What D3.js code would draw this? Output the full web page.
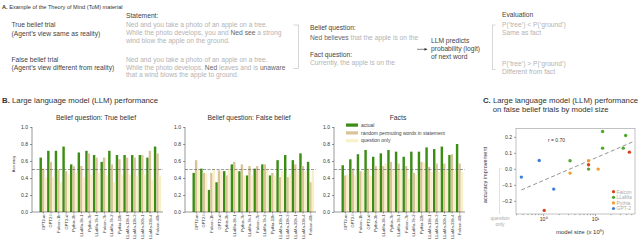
<!DOCTYPE html>
<html>
<head>
<meta charset="utf-8">
<script src="https://cdn.jsdelivr.net/npm/d3@7"></script>
<style>
  body { margin: 0; background: #fff; }
  svg { display: block; font-family: "Liberation Sans", Arial, Helvetica, sans-serif; }
</style>
</head>
<body>
<div id="fig"></div>
<script>
// models on the bar charts (same order in all three panels)
var models = ["GPT2-m", "GPT2-l", "Falcon-1b", "GPT2-xl", "Pythia-3b", "LLaMa-3b-1", "Pythia-7b", "LLaMa-7b-1",
  "Falcon-7b", "LLaMa-7b-2", "Pythia-12b", "LLaMa-13b-1", "LLaMa-13b-3", "LLaMa-30b-1", "LLaMa-33b-4", "Falcon-40b"];

// belief question: true belief
var trueActual   = [0.64, 0.72, 0.72, 0.77, 0.56, 0.70, 0.72, 0.67, 0.59, 0.72, 0.67, 0.67, 0.67, 0.67, 0.64, 0.77];
var truePermuted = [0.51, 0.59, 0.50, 0.48, 0.54, 0.54, 0.69, 0.64, 0.64, 0.56, 0.62, 0.64, 0.64, 0.67, 0.72, 0.69];
var trueQuestion = [0.41, 0.41, 0.35, 0.44, 0.46, 0.41, 0.44, 0.46, 0.43, 0.35, 0.44, 0.44, 0.43, 0.44, 0.38, 0.43];

// belief question: false belief
var falseActual   = [0.46, 0.51, 0.26, 0.35, 0.48, 0.56, 0.48, 0.43, 0.51, 0.56, 0.43, 0.61, 0.67, 0.61, 0.69, 0.59];
var falsePermuted = [0.61, 0.46, 0.46, 0.49, 0.43, 0.59, 0.56, 0.54, 0.54, 0.56, 0.46, 0.41, 0.41, 0.56, 0.54, 0.35];
var falseQuestion = [0.51, 0.46, 0.51, 0.48, 0.51, 0.51, 0.43, 0.43, 0.49, 0.51, 0.43, 0.48, 0.44, 0.48, 0.48, 0.49];

// fact question
var factActual   = [0.55, 0.62, 0.68, 0.73, 0.65, 0.69, 0.73, 0.71, 0.65, 0.71, 0.71, 0.76, 0.74, 0.77, 0.67, 0.80];
var factPermuted = [0.43, 0.51, 0.48, 0.51, 0.54, 0.54, 0.59, 0.57, 0.54, 0.46, 0.59, 0.53, 0.57, 0.57, 0.68, 0.57];
var factQuestion = [0.44, 0.44, 0.47, 0.42, 0.51, 0.57, 0.50, 0.50, 0.39, 0.44, 0.58, 0.47, 0.47, 0.49, 0.49, 0.47];

var accTicks = [0, 0.2, 0.4, 0.6, 0.8, 1.0];
var legendLabels = ["actual", "random permuting words in statement", "question only"];

// panel C: accuracy improvement vs model size (billions)
var scatterFamily = ["GPT-2", "GPT-2", "GPT-2", "Falcon", "Falcon", "Falcon",
  "LLaMa", "LLaMa", "LLaMa", "LLaMa", "LLaMa", "LLaMa", "Pythia", "Pythia", "Pythia"];
var scatterSize = [0.38, 0.84, 1.6, 1.05, 7.5, 46, 3.3, 7.5, 14, 14, 35, 39, 3.3, 7.5, 11.5];
var scatterGain = [-0.052, 0.052, -0.127, -0.26, 0.025, 0.104, 0.05, -0.002, 0.129, 0.233, 0.129, 0.208, -0.027, 0.05, -0.002];
var familyNames = ["Falcon", "LLaMa", "Pythia", "GPT-2"];
var familyColors = ["#d8431d", "#4fa82e", "#f29a2c", "#3c7fd6"];
var gainTicks = [-0.2, -0.1, 0, 0.1, 0.2];

var barColors = ["#3b8d13", "#d8c39a", "#f8f0c6"];
var light = "#b3b3b3", dark = "#444";

var svg = d3.select("#fig").append("svg").attr("width", 640).attr("height", 249);

function text(x, y, str, size, fill, anchor) {
  return svg.append("text").attr("x", x).attr("y", y).text(str)
    .attr("font-size", size).attr("fill", fill || dark).attr("text-anchor", anchor || "start");
}

// text with some darker words: parts = [[str, highlighted], ...]
function richText(x, y, parts, size) {
  var t = svg.append("text").attr("x", x).attr("y", y).attr("font-size", size);
  parts.forEach(function(p) {
    t.append("tspan").text(p[0]).attr("fill", p[1] ? "#666" : light);
  });
}

// ---------- A. example material ----------
var a = text(2, 8.5, "", 5.6, "#333");
a.append("tspan").text("A.").attr("font-weight", "bold");
a.append("tspan").text("  Example of the Theory of Mind (ToM) material");

var fs = 6.7;
text(126, 17.6, "Statement:", fs);
text(11.5, 27.2, "True belief trial", fs);
text(11.5, 35.5, "(Agent\u2019s view same as reality)", fs);
text(11.5, 62, "False belief trial", fs);
text(11.5, 70, "(Agent\u2019s view different from reality)", fs);

richText(126, 26.6, [["Ned and you take a photo of an apple on a tree.", 0]], fs);
richText(126, 35, [["While the photo develops, you and ", 0], ["Ned", 1], [" ", 0], ["see", 1], [" a strong", 0]], fs);
richText(126, 42.8, [["wind blow the apple on the ground.", 0]], fs);
richText(126, 61.6, [["Ned and you take a photo of an apple on a tree.", 0]], fs);
richText(126, 69.6, [["While the photo develops, ", 0], ["Ned", 1], [" leaves and is ", 0], ["unaware", 1]], fs);
richText(126, 77.3, [["that a wind blows the apple to ground.", 0]], fs);

svg.append("path").attr("d", "M293.5,25H298.5V68.5H293.5").attr("fill", "none").attr("stroke", "#bbb").attr("stroke-width", 0.6);

text(310, 30.4, "Belief question:", fs);
richText(310, 39.6, [["Ned believes", 1], [" that the apple is on the", 0]], fs);
text(310, 57.2, "Fact question:", fs);
richText(310, 65.4, [["Currently, the apple is on the", 0]], fs);

svg.append("line").attr("x1", 417).attr("x2", 426.5).attr("y1", 49.3).attr("y2", 49.3).attr("stroke", "#333").attr("stroke-width", 0.6);
svg.append("path").attr("d", "M427.5,49.3L424.5,47.9L424.5,50.7Z").attr("fill", "#333");
text(431, 43.2, "LLM predicts", fs);
text(431, 51.4, "probability (logit)", fs);
text(431, 59.4, "of next word", fs);

text(502, 17.2, "Evaluation", fs);
svg.append("path").attr("d", "M495.5,25H492.5V69.5H495.5").attr("fill", "none").attr("stroke", "#bbb").attr("stroke-width", 0.6);
text(502, 27.2, "P(\u2018tree\u2019) < P(\u2018ground\u2019)", fs, light);
text(502, 34.8, "Same as fact", fs, light);
text(502, 66.2, "P(\u2018tree\u2019) > P(\u2018ground\u2019)", fs, light);
text(502, 73.8, "Different from fact", fs, light);

// ---------- B. bar charts ----------
var b = text(2, 103.3, "", 7.8, "#333");
b.append("tspan").text("B.").attr("font-weight", "bold");
b.append("tspan").text("  Large language model (LLM) performance");

var yAcc = d3.scaleLinear().domain([0, 1]).range([212, 127]);

function barChart(x0, title, series, withLegend) {
  var g = svg.append("g");
  var x = d3.scaleBand().domain(models).range([x0 + 7.5, x0 + 129.5]).paddingInner(0);
  var bw = x.bandwidth() / 3.15;

  series.forEach(function(vals, k) {
    g.selectAll(".s" + k).data(vals).enter().append("rect")
      .attr("x", function(d, i) { return x(models[i]) + k * bw; })
      .attr("y", function(d) { return yAcc(d); })
      .attr("width", bw)
      .attr("height", function(d) { return yAcc(0) - yAcc(d); })
      .attr("fill", barColors[k]);
  });

  // chance line
  g.append("line").attr("x1", x0).attr("x2", x0 + 131)
    .attr("y1", yAcc(0.5)).attr("y2", yAcc(0.5))
    .attr("stroke", "#555").attr("stroke-width", 0.6).attr("stroke-dasharray", "3,1.5");

  var ya = g.append("g").attr("transform", "translate(" + x0 + ",0)")
    .call(d3.axisLeft(yAcc).tickValues(accTicks).tickFormat(d3.format(".1f")).tickSize(2).tickPadding(2));
  ya.select(".domain").attr("d", "M0," + yAcc(0) + "V" + yAcc(1));
  var xa = g.append("g").attr("transform", "translate(0," + yAcc(0) + ")")
    .call(d3.axisBottom(x).tickSize(1.5).tickPadding(1.5));
  xa.select(".domain").attr("d", "M" + x0 + ",0H" + (x0 + 131));
  xa.selectAll("text").attr("transform", "rotate(-90)").attr("text-anchor", "end")
    .attr("x", -2.5).attr("y", 0).attr("dy", "0.35em").attr("font-size", 4.1).attr("fill", "#333");
  ya.selectAll("text").attr("font-size", 5).attr("fill", "#333");
  [ya, xa].forEach(function(ax) {
    ax.selectAll("line, path").attr("stroke", "#333").attr("stroke-width", 0.5);
  });

  text(x0 + 64, 119.5, title, 6.8, "#333", "middle");

  if (withLegend) {
    legendLabels.forEach(function(l, k) {
      g.append("rect").attr("x", x0 + 12).attr("y", 123.5 + k * 7.8).attr("width", 12).attr("height", 3.2).attr("fill", barColors[k]);
      g.append("text").attr("x", x0 + 27).attr("y", 126.8 + k * 7.8).text(l).attr("font-size", 5).attr("fill", "#444");
    });
  }
}

barChart(32, "Belief question: True belief", [trueActual, truePermuted, trueQuestion], false);
barChart(185, "Belief question: False belief", [falseActual, falsePermuted, falseQuestion], false);
barChart(334, "Facts", [factActual, factPermuted, factQuestion], true);

svg.append("text").attr("transform", "translate(15,164) rotate(-90)").attr("text-anchor", "middle")
  .attr("font-size", 4).attr("fill", "#333").text("Accuracy");

// ---------- C. scatter ----------
var c = text(483, 103.3, "", 7.75, "#333");
c.append("tspan").text("C.").attr("font-weight", "bold");
c.append("tspan").text("  Large language model (LLM) performance");
text(492.7, 112.2, "on false belief trials by model size", 7.75, "#333");

var sx = d3.scaleLog().domain([0.3, 59]).range([516, 635]);
var sy = d3.scaleLinear().domain([-0.2825, 0.253]).range([214, 128.3]);

svg.append("rect").attr("x", 516).attr("y", 128.3).attr("width", 119).attr("height", 85.7)
  .attr("fill", "none").attr("stroke", "#999").attr("stroke-width", 0.6);

var gy = svg.append("g").attr("transform", "translate(516,0)")
  .call(d3.axisLeft(sy).tickValues(gainTicks).tickFormat(d3.format(".1f")).tickSize(2).tickPadding(2));
gy.select(".domain").remove();
gy.selectAll("text").attr("font-size", 5).attr("fill", "#333");
gy.selectAll("line").attr("stroke", "#555").attr("stroke-width", 0.5);

var sup = {1: "10\u2070", 10: "10\u00b9"};
var gx = svg.append("g").attr("transform", "translate(0,214)")
  .call(d3.axisBottom(sx).tickValues([0.3, 0.4, 0.5, 0.6, 0.7, 0.8, 0.9, 1, 2, 3, 4, 5, 6, 7, 8, 9, 10, 20, 30, 40, 50])
    .tickFormat(function(d) { return sup[d] || ""; }).tickSize(1.2).tickPadding(2));
gx.select(".domain").remove();
gx.selectAll(".tick line").attr("stroke", "#555").attr("stroke-width", 0.5)
  .attr("y2", function(d) { return sup[d] ? 2 : 1.2; });
gx.selectAll("text").attr("font-size", 5.2).attr("fill", "#333");

// least squares fit on log10(size)
var lx = scatterSize.map(function(d) { return Math.log10(d); });
var mx = d3.mean(lx), my = d3.mean(scatterGain);
var slope = d3.sum(lx, function(d, i) { return (d - mx) * (scatterGain[i] - my); }) /
  d3.sum(lx, function(d) { return (d - mx) * (d - mx); });
var fitX = [d3.min(scatterSize), d3.max(scatterSize) * 1.2];
svg.append("line")
  .attr("x1", sx(fitX[0])).attr("y1", sy(my + slope * (Math.log10(fitX[0]) - mx)))
  .attr("x2", sx(fitX[1])).attr("y2", sy(my + slope * (Math.log10(fitX[1]) - mx)))
  .attr("stroke", "#777").attr("stroke-width", 0.8).attr("stroke-dasharray", "4,2.5");

svg.selectAll(".pt").data(scatterGain).enter().append("circle")
  .attr("cx", function(d, i) { return sx(scatterSize[i]); })
  .attr("cy", function(d) { return sy(d); })
  .attr("r", 1.7)
  .attr("fill", function(d, i) { return familyColors[familyNames.indexOf(scatterFamily[i])]; });

text(548, 142, "r = 0.70", 5, "#333");

familyNames.forEach(function(f, k) {
  svg.append("circle").attr("cx", 613.5).attr("cy", 191.7 + k * 5.6).attr("r", 1.6).attr("fill", familyColors[k]);
  text(616.5, 193.5 + k * 5.6, f, 5, "#aaa");
});

svg.append("text").attr("transform", "translate(487,175) rotate(-90)").attr("text-anchor", "middle")
  .attr("font-size", 5.6).attr("fill", "#333").text("accuracy improvement");
var ml = text(580, 234, "model size (x 10", 6, "#333", "middle");
ml.append("tspan").text("9").attr("font-size", 4).attr("dy", -2.5);
ml.append("tspan").text(")").attr("dy", 2.5);

// "question only" bracket
svg.append("path").attr("d", "M501.5," + sy(0) + "H499.5V" + sy(-0.2825))
  .attr("fill", "none").attr("stroke", "#ccc").attr("stroke-width", 0.6);
text(500, 219.5, "question", 5, "#aaa", "middle");
text(500, 225.5, "only", 5, "#aaa", "middle");
</script>
</body>
</html>
